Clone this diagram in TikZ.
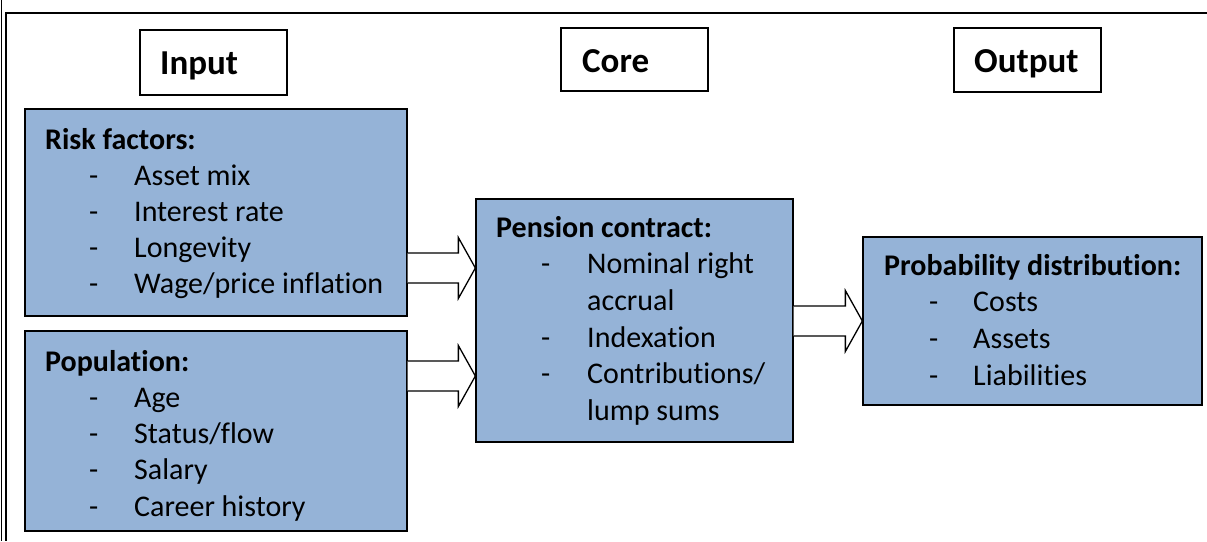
\documentclass[tikz,border=0pt]{standalone}
\usepackage{fontspec}
\setmainfont{Carlito}[Ligatures=NoCommon]
\usetikzlibrary{calc,fit}
\definecolor{boxblue}{HTML}{95B3D7}

% text sizes
\newcommand\titlefont{\fontsize{35}{42}\selectfont\bfseries}
\newcommand\headfont{\fontsize{30}{36}\selectfont\bfseries}
\newcommand\itemfont{\fontsize{30}{36}\selectfont}

\tikzset{
  frame/.style={draw=black, line width=1.3pt},
  titlebox/.style={draw=black, line width=1.3pt, fill=white, inner sep=0pt},
  bluebox/.style={draw=black, line width=1.3pt, fill=boxblue, inner sep=0pt},
  boxhead/.style={anchor=base west, inner sep=0pt, font=\headfont},
  boxitem/.style={anchor=base west, inner sep=0pt, font=\itemfont},
  boxtitle/.style={anchor=base west, inner sep=0pt, font=\titlefont},
  blockarrow/.style={draw=black, line width=1.3pt, fill=white, line join=miter},
}

% hollow block arrow from the east side of #1 to the west side of #2, axis at height #3
\newcommand\blockarrow[3]{%
  \draw[blockarrow] let \p1=(#1.east), \p2=(#2.west) in
    (\x1,#3-15) -- ({\x2-17pt},#3-15) -- ({\x2-17pt},#3-30.5) -- (\x2,#3)
    -- ({\x2-17pt},#3+30.5) -- ({\x2-17pt},#3+15) -- (\x1,#3+15);
}

\begin{document}
\begin{tikzpicture}[x=1pt,y=-1pt]
  \useasboundingbox (0,0) rectangle (1207,541);
  \fill[white] (0,0) rectangle (1207,541);

  % surrounding frame (top and left sides)
  \draw[black, line width=0.5pt] (1,0) -- (1,541);
  \draw[frame] (1207,13) -- (6,13) -- (6,541);

  % column titles
  \node[titlebox, fit={(140,30) (287,95)}] (input) {};
  \node[boxtitle] (inputtxt) at (160,74) {Input};
  \node[titlebox, fit={(561,28) (708,91)}] (core) {};
  \node[boxtitle] (coretxt) at (582,72) {Core};
  \node[titlebox, fit={(954,28) (1101,92)}] (output) {};
  \node[boxtitle] (outputtxt) at (974,72) {Output};

  % input boxes
  \node[bluebox, fit={(25,109) (407,316)}] (risk) {};
  \node[boxhead] (riskh) at (45,149) {Risk factors:};
  \foreach \t [count=\i] in {Asset mix, Interest rate, Longevity, Wage/price inflation} {
    \node[boxitem] (riskd\i) at (89,{149.5+36*\i}) {-};
    \node[boxitem] (riski\i) at (134,{149.5+36*\i}) {\t};
  }

  \node[bluebox, fit={(25,331) (407,531)}] (pop) {};
  \node[boxhead] (poph) at (45,371.5) {Population:};
  \foreach \t [count=\i] in {Age, Status\slash flow, Salary, Career history} {
    \node[boxitem] (popd\i) at (89,{371+36.3*\i}) {-};
    \node[boxitem] (popi\i) at (134,{371+36.3*\i}) {\t};
  }

  % core box
  \node[bluebox, fit={(476,199) (793,442)}] (pension) {};
  \node[boxhead] (pensionh) at (496,237) {Pension contract:};
  \node[boxitem] (pend1) at (541,273) {-};
  \node[boxitem] (peni1) at (587,273) {Nominal right};
  \node[boxitem] (peni1b) at (587,310) {accrual};
  \node[boxitem] (pend2) at (541,347) {-};
  \node[boxitem] (peni2) at (587,347) {Indexation};
  \node[boxitem] (pend3) at (541,383) {-};
  \node[boxitem] (peni3) at (587,383) {Contributions/};
  \node[boxitem] (peni3b) at (587,420) {lump sums};

  % output box
  \node[bluebox, fit={(863,237) (1202,405)}] (prob) {};
  \node[boxhead] (probh) at (884,275) {Probability distribution:};
  \foreach \t [count=\i] in {Costs, Assets, Liabilities} {
    \node[boxitem] (probd\i) at (929,{275+36.7*\i}) {-};
    \node[boxitem] (probi\i) at (973,{275+36.7*\i}) {\t};
  }

  % flows
  \blockarrow{risk}{pension}{268}
  \blockarrow{pop}{pension}{376}
  \blockarrow{pension}{prob}{321}
\end{tikzpicture}
\end{document}
